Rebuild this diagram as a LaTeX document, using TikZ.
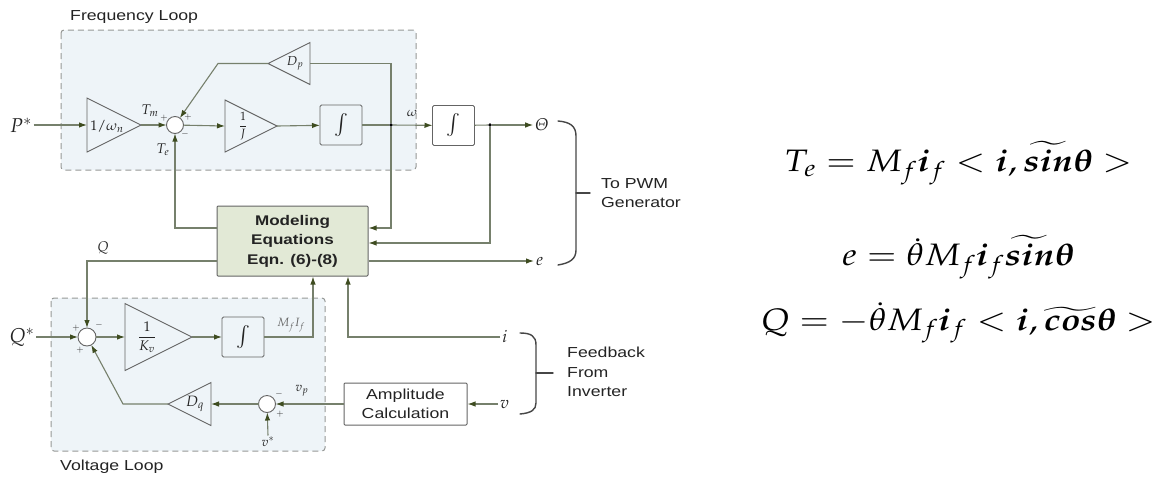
\documentclass[tikz,border=0pt]{standalone}
\usepackage{amsmath}
\usepackage{mathpazo}
\usepackage{bm}
\usepackage[no-math]{fontspec}
\usepackage{graphicx}
\usetikzlibrary{arrows.meta,shapes.geometric}
\newfontfamily\labfont[FakeStretch=1.22]{Liberation Sans}

\definecolor{linec}{RGB}{118,128,108}
\definecolor{arrc}{RGB}{62,76,32}
\definecolor{loopfill}{RGB}{238,244,248}
\definecolor{loopdraw}{RGB}{150,152,150}
\definecolor{blockdraw}{RGB}{100,100,100}
\definecolor{modfill}{RGB}{226,233,214}
\definecolor{txt}{RGB}{35,35,35}
\definecolor{bracec}{RGB}{70,70,70}

\newcommand{\fs}[1]{\fontsize{#1}{#1}\selectfont}

\begin{document}
\begin{tikzpicture}[x=1pt,y=-1pt,
  conn/.style={draw=linec, line width=1.1pt},
  arr/.style={conn, -{Latex[length=8pt,width=5.5pt,color=arrc]}},
  tri/.style={isosceles triangle, isosceles triangle stretches, draw=blockdraw,
    line width=0.9pt, inner sep=0pt, outer sep=0pt},
  sumc/.style={circle, draw=blockdraw, fill=white, line width=0.9pt,
    minimum size=17pt, inner sep=0pt, outer sep=0pt},
  intb/.style={rectangle, rounded corners=1.5pt, draw=blockdraw, line width=0.9pt,
    minimum width=42pt, minimum height=40pt, inner sep=0pt, outer sep=0pt,
    font=\fs{20}, text=txt},
  dot/.style={circle, fill=black, minimum size=3.6pt, inner sep=0pt, outer sep=0pt},
  loopbox/.style={draw=loopdraw, fill=loopfill, dash pattern=on 6pt off 4pt,
    line width=1pt, rounded corners=3pt},
  title/.style={font=\labfont\fs{14.5}, text=txt, inner sep=0pt},
  mlab/.style={text=txt, inner sep=1.5pt},
  sgn/.style={font=\fs{9}, text=txt, inner sep=0pt},
  bracep/.style={draw=bracec, line width=1.4pt, line cap=round},
  eqn/.style={font=\fs{31}, text=black, inner sep=0pt}
]
\useasboundingbox (0,0) rectangle (1155,480);

% loop backgrounds
\draw[loopbox] (61,30) rectangle (416,170);
\draw[loopbox] (51,298) rectangle (325,451);
\node[title, anchor=west] (flab) at (70,17) {Frequency Loop};
\node[title, anchor=west] (vlab) at (60,467) {Voltage Loop};

% ---------- frequency loop ----------
\node[mlab, font=\fs{20}] (pin) at (21,125) {$P^{*}$};
\node[tri, minimum width=54pt, minimum height=54pt, anchor=lower side] (g1) at (87,125) {};
\node[mlab, font=\fs{14}] (g1t) at (107,126) {$1/\omega_n$};
\node[sumc] (s0) at (175,125) {};
\node[mlab, font=\fs{14}] (tm) at (150,111) {$T_m$};
\node[sgn] (s0a) at (164,118) {$+$};
\node[sgn] (s0b) at (188,117) {$+$};
\node[sgn] (s0c) at (185,134) {$-$};
\node[mlab, font=\fs{14}] (te) at (163,150) {$T_e$};
\node[tri, minimum width=52pt, minimum height=52pt, anchor=lower side] (g2) at (225,126) {};
\node[mlab, font=\fs{12}] (g2t) at (243,126) {$\dfrac{1}{J}$};
\node[intb] (i1) at (341,125) {$\int$};
\node[dot] (j1) at (391,125) {};
\node[mlab, font=\fs{13}] (om) at (412,113) {$\omega$};
\node[tri, shape border rotate=180, minimum width=42pt, minimum height=42pt,
  anchor=lower side] (Dp) at (310,63.5) {};
\node[mlab, font=\fs{13}] (Dpt) at (295,63.5) {$D_p$};
\coordinate (dpk) at (218,63.5);
\node[intb] (i2) at (453.5,125.5) {$\int$};
\node[dot] (j2) at (490,125) {};
\node[mlab, font=\fs{17}, inner sep=2pt] (th) at (542,125) {$\mathnormal{\Theta}$};

% ---------- modeling block ----------
\node[draw=blockdraw, fill=modfill, line width=1pt, rounded corners=1pt,
  minimum width=151pt, minimum height=70pt, inner sep=0pt,
  font=\labfont\bfseries\fontsize{14}{19.5}\selectfont, text=txt, align=center]
  (M) at (292.5,241) {Modeling\\Equations\\Eqn. (6)-(8)};
\node[mlab, font=\fs{17}, inner sep=2pt, anchor=west] (eout) at (534,261) {$e$};
\node[mlab, font=\fs{14}] (ql) at (103,248) {$Q$};

% ---------- voltage loop ----------
\node[mlab, font=\fs{20}] (qin) at (22,337) {$Q^{*}$};
\node[sumc, minimum size=18pt] (s1) at (87,337) {};
\node[sgn] (s1a) at (76,328) {$+$};
\node[sgn] (s1b) at (99,325) {$-$};
\node[sgn] (s1c) at (80,350) {$+$};
\node[tri, minimum width=67pt, minimum height=67pt, anchor=lower side] (Kv) at (125,337) {};
\node[mlab, font=\fs{14}] (Kvt) at (147,337) {$\dfrac{1}{K_v}$};
\node[intb] (i3) at (243,337) {$\int$};
\node[mlab, font=\fs{12}, text=black!60] (mfif) at (291,325) {$M_fI_f$};
\node[tri, shape border rotate=180, minimum width=43pt, minimum height=43pt,
  anchor=lower side] (Dq) at (211,404) {};
\node[mlab, font=\fs{15}] (Dqt) at (195,404) {$D_q$};
\coordinate (dqk) at (123,404);
\node[sumc] (s2) at (267,404) {};
\node[sgn] (s2a) at (279,394) {$-$};
\node[sgn] (s2b) at (280,414) {$+$};
\node[mlab, font=\fs{13}] (vp) at (302,391) {$v_p$};
\node[mlab, font=\fs{13}] (vs) at (268,442) {$v^{*}$};
\node[draw=blockdraw, line width=1pt, rounded corners=1pt,
  minimum width=123pt, minimum height=42pt, inner sep=0pt,
  font=\labfont\fontsize{14.5}{19}\selectfont, text=txt, align=center]
  (amp) at (405.5,404) {Amplitude\\Calculation};
\node[mlab, font=\fs{17}, inner sep=2pt, anchor=west] (vin) at (498,404) {$v$};
\node[mlab, font=\fs{17}, inner sep=2pt, anchor=west] (iin) at (500,337) {$i$};

% ---------- connectors ----------
\draw[arr] (pin.east) -- (g1.lower side);
\draw[arr] (g1.apex) -- (s0);
\draw[arr] (s0) -- (g2.lower side);
\draw[arr] (g2.apex) -- (i1);
\draw[conn] (i1) -- (j1);
\draw[arr] (j1) -- (i2);
\draw[conn] (i2) -- (j2);
\draw[arr] (j2) -- (th.west);
\draw[conn] (j1) |- (Dp.lower side);
\draw[arr] (Dp.apex) -- (dpk) -- (s0);
\draw[arr] (j1) |- ([yshift=13pt]M.east);
\draw[arr] (j2) |- ([yshift=-2pt]M.east);
\draw[arr] ([yshift=-20pt]M.east) -- (eout.west);
\draw[arr] ([yshift=13pt]M.west) -| (s0);
\draw[arr] ([yshift=-20pt]M.west) -| (s1);

\draw[arr] (qin.east) -- (s1);
\draw[arr] (s1) -- (Kv.lower side);
\draw[arr] (Kv.apex) -- (i3);
\draw[arr] (i3) -| ([xshift=20.5pt]M.south);
\draw[arr] (iin.west) -| ([xshift=55.5pt]M.south);
\draw[arr] (vin.west) -- (amp);
\draw[arr] (amp) -- (s2);
\draw[arr] (s2) -- (Dq.lower side);
\draw[arr] (Dq.apex) -- (dqk) -- (s1);
\draw[arr] (vs.north) -- (s2);

% ---------- braces ----------
\draw[bracep] (558,121) .. controls (570,122) and (576,126) .. (576,136)
  -- (576,250) .. controls (576,259) and (570,263) .. (558,265);
\draw[bracep] (576,193) -- (590,193);
\node[title, anchor=west, align=left, font=\labfont\fontsize{14.5}{19}\selectfont]
  (pwm) at (601,193) {To PWM\\Generator};
\draw[bracep] (520,333) .. controls (531,333) and (536,336) .. (536,345)
  -- (536,403) .. controls (536,410) and (531,413) .. (520,414);
\draw[bracep] (536,373) -- (553,373);
\node[title, anchor=west, align=left, font=\labfont\fontsize{14.5}{19.5}\selectfont]
  (fb) at (567,372) {Feedback\\From\\Inverter};

% ---------- equations ----------
\node[eqn] (eq1) at (958,163)
  {\scalebox{1.15}[1]{$T_e = M_f\bm{i}_f < \bm{i}, \widetilde{\bm{sin}}\bm{\theta} >$}};
\node[eqn] (eq2) at (958,257)
  {\scalebox{1.15}[1]{$e = \dot{\theta} M_f\bm{i}_f\widetilde{\bm{sin}}\bm{\theta}$}};
\node[eqn] (eq3) at (958,323)
  {\scalebox{1.15}[1]{$Q = -\dot{\theta} M_f\bm{i}_f < \bm{i}, \widetilde{\bm{cos}}\bm{\theta} >$}};
\end{tikzpicture}
\end{document}
